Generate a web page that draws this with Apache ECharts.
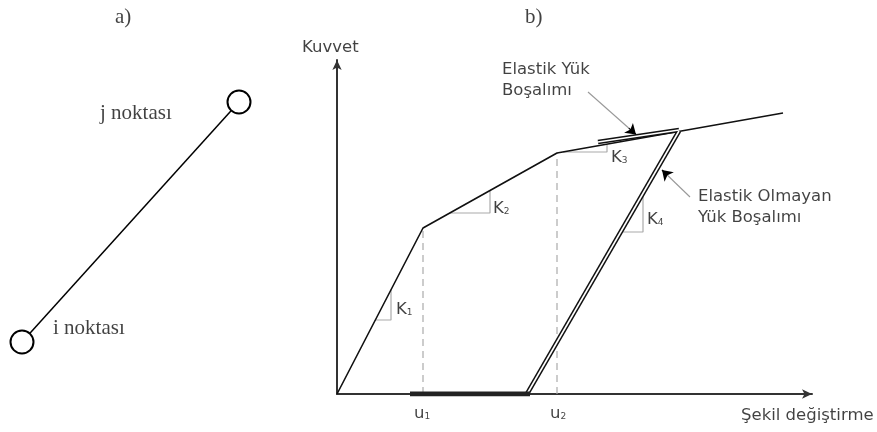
<!DOCTYPE html>
<html>
<head>
<meta charset="UTF-8">
<title>Kuvvet - Şekil değiştirme</title>
<script src="https://cdn.jsdelivr.net/npm/echarts/dist/echarts.min.js"></script>
<style>
    body { margin: 0; background: #fff; }
    #main { width: 877px; height: 432px; }
</style>
</head>
<body>
<div id="main"></div>
<script>
// ---- a) eleman (i - j noktaları) ----
var nodeI = [22, 90];
var nodeJ = [239, 330];
var partALabels = [
    { text: 'a)', at: [115, 415] },
    { text: 'j noktası', at: [100, 319] },
    { text: 'i noktası', at: [53, 104] }
];

// ---- b) kuvvet - şekil değiştirme eğrisi ----
var curveX = [0, 8.6, 22.0, 44.6];
var curveY = [0, 16.6, 24.1, 28.1];
var unloadX = [34.2, 19.0];          // elastik olmayan yük boşalımı
var unloadY = [26.3, 0];
var elasticX = [26.1, 34.2];         // elastik yük boşalımı
var elasticY = [25.2, 26.4];
var plasticBar = [7.3, 19.3];        // kalıcı şekil değiştirme
var uX = [8.6, 22.0];
var uTop = [16.6, 24.1];
var uNames = ['1', '2'];

// rijitlik üçgenleri: [x1, x2, yBase, yTop]
var slopeTri = [
    [3.8, 5.4, 7.4, 10.45],
    [11.3, 15.3, 18.1, 20.35],
    [22.6, 27.0, 24.2, 24.95],
    [28.4, 30.6, 16.2, 20.1]
];
var slopeLabelPos = [[5.9, 8.4], [15.6, 18.5], [27.4, 23.6], [31.0, 17.4]];
var slopeNames = ['1', '2', '3', '4'];

var notes = [
    { text: 'Kuvvet', at: [-3.5, 34.65] },
    { text: 'Şekil değiştirme', at: [40.4, -2.2] },
    { text: 'Elastik Yük', at: [16.5, 32.4] },
    { text: 'Boşalımı', at: [16.5, 30.3] },
    { text: 'Elastik Olmayan', at: [36.1, 19.7] },
    { text: 'Yük Boşalımı', at: [36.1, 17.6] }
];
var bLabel = { text: 'b)', at: [18.8, 37.7] };
var uLabelPos = [[7.7, -2.0], [21.3, -2.0]];

// ok: [kuyruk, uç]
var pointers = [
    [[25.1, 30.2], [29.9, 25.95]],
    [[35.3, 19.7], [32.5, 22.4]]
];

var SANS = 'DejaVu Sans';
var SERIF = 'Liberation Serif';

var chart = echarts.init(document.getElementById('main'));

function zip(xs, ys) {
    return xs.map(function (x, i) { return [x, ys[i]]; });
}

function textSeries(items, axisIdx, font, size) {
    return {
        type: 'scatter', xAxisIndex: axisIdx, yAxisIndex: axisIdx,
        symbolSize: 0, clip: false, silent: true, z: 10,
        data: items.map(function (d) { return { value: d.at, name: d.text }; }),
        label: {
            show: true, position: 'right', distance: 0,
            formatter: '{b}', color: '#111', fontFamily: font, fontSize: size
        }
    };
}

function plainLine(data, style, z) {
    return {
        type: 'line', xAxisIndex: 1, yAxisIndex: 1, data: data,
        symbol: 'none', silent: true, z: z || 2, lineStyle: style
    };
}

var series = [];

// a) eleman
series.push({
    type: 'line', xAxisIndex: 0, yAxisIndex: 0, data: [nodeI, nodeJ],
    symbol: 'none', lineStyle: { color: '#000', width: 1.5 }, z: 2
});
series.push({
    type: 'scatter', xAxisIndex: 0, yAxisIndex: 0, data: [nodeI, nodeJ],
    symbol: 'circle', symbolSize: 23, z: 3,
    itemStyle: { color: '#fff', opacity: 1, borderColor: '#000', borderWidth: 2 }
});
series.push(textSeries(partALabels, 0, SERIF, 21));

// b) kesikli çizgiler
uX.forEach(function (x, i) {
    series.push(plainLine([[x, 0], [x, uTop[i]]], { color: '#aaa', width: 1.2, type: [7, 5] }, 1));
});

// rijitlik üçgenleri
slopeTri.forEach(function (t) {
    series.push(plainLine([[t[0], t[2]], [t[1], t[2]], [t[1], t[3]]], { color: '#aaa', width: 1.2 }, 1));
});

// ana eğri
series.push(plainLine(zip(curveX, curveY), { color: '#111', width: 1.6 }, 3));

// çift çizgiler
[[unloadX, unloadY], [elasticX, elasticY]].forEach(function (p) {
    series.push(plainLine(zip(p[0], p[1]), { color: '#111', width: 4.6 }, 4));
    series.push(plainLine(zip(p[0], p[1]), { color: '#fff', width: 1.6 }, 5));
});

// kalıcı şekil değiştirme
series.push(plainLine([[plasticBar[0], 0], [plasticBar[1], 0]], { color: '#222', width: 5 }, 6));

// oklar
series.push({
    type: 'lines', coordinateSystem: 'cartesian2d', xAxisIndex: 1, yAxisIndex: 1,
    silent: true, z: 7, symbol: ['none', 'none'],
    lineStyle: { color: '#999', width: 1.1, opacity: 1 },
    data: pointers.map(function (p) { return { coords: p }; })
});
series.push({
    type: 'lines', coordinateSystem: 'cartesian2d', xAxisIndex: 1, yAxisIndex: 1,
    silent: true, z: 8, symbol: ['none', 'arrow'], symbolSize: [7, 10],
    lineStyle: { color: '#000', width: 1.1, opacity: 1 },
    data: pointers.map(function (p) {
        var a = p[0], b = p[1];
        var m = [a[0] + (b[0] - a[0]) * 0.85, a[1] + (b[1] - a[1]) * 0.85];
        return { coords: [m, b] };
    })
});

// metinler
series.push(textSeries(notes, 1, SANS, 16.5));
series.push(textSeries([bLabel], 1, SERIF, 21));

var subRich = {
    m: { fontFamily: SANS, fontSize: 16.5, color: '#111', verticalAlign: 'bottom' },
    s: { fontFamily: SANS, fontSize: 9, color: '#111', verticalAlign: 'bottom', padding: [0, 0, 1, 0] }
};
series.push({
    type: 'scatter', xAxisIndex: 1, yAxisIndex: 1, symbolSize: 0, clip: false, silent: true, z: 10,
    data: slopeLabelPos.map(function (p, i) { return { value: p, name: slopeNames[i] }; })
        .concat(uLabelPos.map(function (p, i) { return { value: p, name: 'u' + uNames[i] }; })),
    label: {
        show: true, position: 'right', distance: 0, rich: subRich,
        formatter: function (d) {
            var n = d.name;
            if (n.charAt(0) === 'u') return '{m|u}{s|' + n.slice(1) + '}';
            return '{m|K}{s|' + n + '}';
        }
    }
});

var hiddenAxis = {
    type: 'value', show: false, splitLine: { show: false }
};

chart.setOption({
    animation: false,
    backgroundColor: '#fff',
    grid: [
        { left: 0, top: 0, width: 300, height: 432 },
        { left: 337, top: 60, right: 65, bottom: 38 }
    ],
    xAxis: [
        Object.assign({ gridIndex: 0, min: 0, max: 300 }, hiddenAxis),
        {
            type: 'value', gridIndex: 1, min: 0, max: 47.5,
            axisLine: { show: true, onZero: false, symbol: ['none', 'arrow'], symbolSize: [7, 10],
                lineStyle: { color: '#333', width: 2 } },
            axisTick: { show: false }, axisLabel: { show: false }, splitLine: { show: false }
        }
    ],
    yAxis: [
        Object.assign({ gridIndex: 0, min: 0, max: 432 }, hiddenAxis),
        {
            type: 'value', gridIndex: 1, min: 0, max: 33.4,
            axisLine: { show: true, onZero: false, symbol: ['none', 'arrow'], symbolSize: [7, 10],
                lineStyle: { color: '#333', width: 2 } },
            axisTick: { show: false }, axisLabel: { show: false }, splitLine: { show: false }
        }
    ],
    series: series
});
</script>
</body>
</html>
